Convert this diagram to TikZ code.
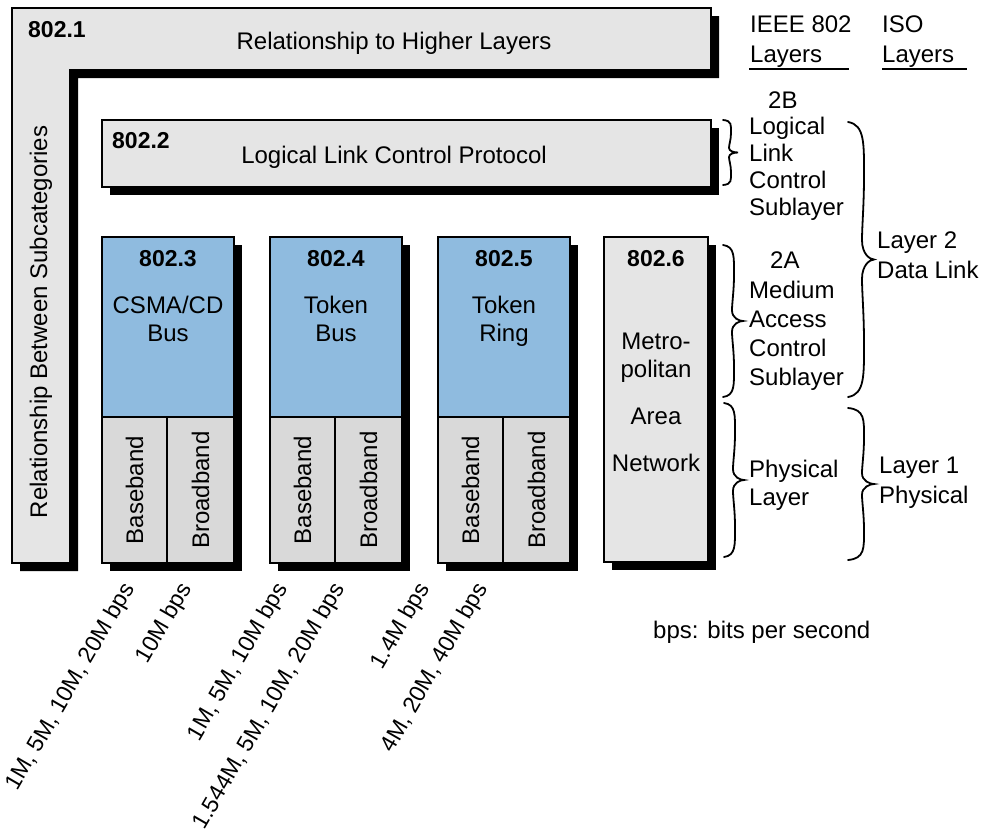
\documentclass[tikz,border=0pt]{standalone}
\usepackage{fontspec}
\setmainfont{Liberation Sans}
\definecolor{lgray}{RGB}{229,229,229}
\definecolor{mgray}{RGB}{217,217,217}
\definecolor{pblue}{RGB}{143,187,223}
\tikzset{
  boxline/.style={draw=black, line width=1.3pt},
  txt/.style={inner sep=0pt, font=\fontsize{24}{28}\selectfont, anchor=base},
  txtl/.style={txt, anchor=base west},
  btxt/.style={inner sep=0pt, font=\fontsize{23}{28}\selectfont\bfseries, anchor=base},
  vtxt/.style={inner sep=0pt, font=\fontsize{24}{28}\selectfont, rotate=90, anchor=center},
  rtxt/.style={inner sep=0pt, font=\fontsize{23}{28}\selectfont, rotate=60, anchor=base east},
  bracestyle/.style={line width=1.8pt, line cap=round},
  uline/.style={line width=2pt},
}
\newcommand{\curlybr}[5]{%
  \pgfmathsetmacro{\bym}{(#2+#3)/2}%
  \pgfmathsetmacro{\bhh}{#3-#2}%
  \pgfmathsetmacro{\bxb}{#1+#5}%
  \pgfmathsetmacro{\bxa}{#1+#4}%
  \pgfmathsetmacro{\bxc}{#1+#5-2}%
  \draw[bracestyle] (#1,#2)
    .. controls (\bxb+1,#2+0.01*\bhh) and (\bxb,#2+0.08*\bhh) .. (\bxb,#2+0.2*\bhh)
    .. controls (\bxb,#2+0.3*\bhh) and (\bxc,\bym-0.12*\bhh) .. (\bxc,\bym-0.07*\bhh)
    .. controls (\bxc,\bym-0.02*\bhh) and (\bxa-4,\bym) .. (\bxa,\bym)
    .. controls (\bxa-4,\bym) and (\bxc,\bym+0.02*\bhh) .. (\bxc,\bym+0.07*\bhh)
    .. controls (\bxc,\bym+0.12*\bhh) and (\bxb,#3-0.3*\bhh) .. (\bxb,#3-0.2*\bhh)
    .. controls (\bxb,#3-0.08*\bhh) and (\bxb+1,#3-0.01*\bhh) .. (#1,#3);
}
\begin{document}
\begin{tikzpicture}[x=1pt,y=-1pt]
\useasboundingbox (0,0) rectangle (988,836);
% 802.1 L-shape
\fill[black] (20,16) -- (719,16) -- (719,78) -- (78,78) -- (78,571) -- (20,571) -- cycle;
\filldraw[fill=lgray, boxline] (12,8) -- (711,8) -- (711,70) -- (70,70) -- (70,563) -- (12,563) -- cycle;
% 802.2
\fill[black] (110,128) rectangle (719,195);
\filldraw[fill=lgray, boxline] (102,120) rectangle (711,187);
% 802.3 - 802.5
\foreach \x in {102,270,438} {
  \fill[black] (\x+8,245) rectangle (\x+140,571);
  \filldraw[fill=pblue, boxline] (\x,237) rectangle (\x+132,417);
  \filldraw[fill=mgray, boxline] (\x,417) rectangle (\x+65,563);
  \filldraw[fill=mgray, boxline] (\x+65,417) rectangle (\x+132,563);
}
% 802.6
\fill[black] (612,245) rectangle (716,570);
\filldraw[fill=lgray, boxline] (604,237) rectangle (708,562);

% texts 802.1 / 802.2
\node[btxt, anchor=base west] (n1) at (28,37) {802.1};
\node[txt] (hl) at (394,49) {Relationship to Higher Layers};
\node[vtxt] (rbs) at (41,322) {Relationship Between Subcategories};
\node[btxt, anchor=base west] (n2) at (112,148) {802.2};
\node[txt] (llc) at (394,163) {Logical Link Control Protocol};

% 802.3
\node[btxt] (n3) at (168,266) {802.3};
\node[txt] (n3a) at (168,313) {CSMA/CD};
\node[txt] (n3b) at (168,341) {Bus};
\node[vtxt] (n3c) at (134.5,490) {Baseband};
\node[vtxt] (n3d) at (200.5,490) {Broadband};
% 802.4
\node[btxt] (n4) at (336,266) {802.4};
\node[txt] (n4a) at (336,313) {Token};
\node[txt] (n4b) at (336,341) {Bus};
\node[vtxt] (n4c) at (302.5,490) {Baseband};
\node[vtxt] (n4d) at (368.5,490) {Broadband};
% 802.5
\node[btxt] (n5) at (504,266) {802.5};
\node[txt] (n5a) at (504,313) {Token};
\node[txt] (n5b) at (504,341) {Ring};
\node[vtxt] (n5c) at (470.5,490) {Baseband};
\node[vtxt] (n5d) at (536.5,490) {Broadband};
% 802.6
\node[btxt] (n6) at (656,266) {802.6};
\node[txt] (n6a) at (656,349) {Metro-};
\node[txt] (n6b) at (656,377) {politan};
\node[txt] (n6c) at (656,424) {Area};
\node[txt] (n6d) at (656,471) {Network};

% speeds
\node[rtxt] (s1) at (135,588) {1M, 5M, 10M, 20M bps};
\node[rtxt] (s2) at (192,588) {10M bps};
\node[rtxt] (s3) at (288,588) {1M, 5M, 10M bps};
\node[rtxt] (s4) at (345,588) {1.544M, 5M, 10M, 20M bps};
\node[rtxt] (s5) at (430,588) {1.4M bps};
\node[rtxt] (s6) at (488,588) {4M, 20M, 40M bps};
\node[txtl] (bps) at (653,638) {bps: bits per second};

% right-hand headings
\node[txtl] (ie1) at (750,32) {IEEE 802};
\node[txtl] (ie2) at (750,62) {Layers};
\node[txtl] (is1) at (882,32) {ISO};
\node[txtl] (is2) at (882,62) {Layers};
\coordinate (u1a) at (749,69);
\coordinate (u1b) at (849,69);
\coordinate (u2a) at (882,69);
\coordinate (u2b) at (967,69);
\draw[uline] (u1a) -- (u1b);
\draw[uline] (u2a) -- (u2b);

\node[txtl] (b2a) at (768,108) {2B};
\node[txtl] (b2b) at (749,134) {Logical};
\node[txtl] (b2c) at (749,161) {Link};
\node[txtl] (b2d) at (749,188) {Control};
\node[txtl] (b2e) at (749,215) {Sublayer};

\node[txtl] (a2a) at (770,268) {2A};
\node[txtl] (a2b) at (749,298) {Medium};
\node[txtl] (a2c) at (749,327) {Access};
\node[txtl] (a2d) at (749,356) {Control};
\node[txtl] (a2e) at (749,385) {Sublayer};

\node[txtl] (p1a) at (749,477) {Physical};
\node[txtl] (p1b) at (749,505) {Layer};

\node[txtl] (l2a) at (877,248) {Layer 2};
\node[txtl] (l2b) at (877,278) {Data Link};
\node[txtl] (l1a) at (879,473) {Layer 1};
\node[txtl] (l1b) at (879,503) {Physical};

% braces
\curlybr{723}{120}{185}{15}{8}
\curlybr{723}{245}{397}{20}{11}
\curlybr{724}{403}{557}{20}{11}
\curlybr{848}{122}{397}{26}{16}
\curlybr{848}{408}{560}{26}{16}
\end{tikzpicture}
\end{document}
